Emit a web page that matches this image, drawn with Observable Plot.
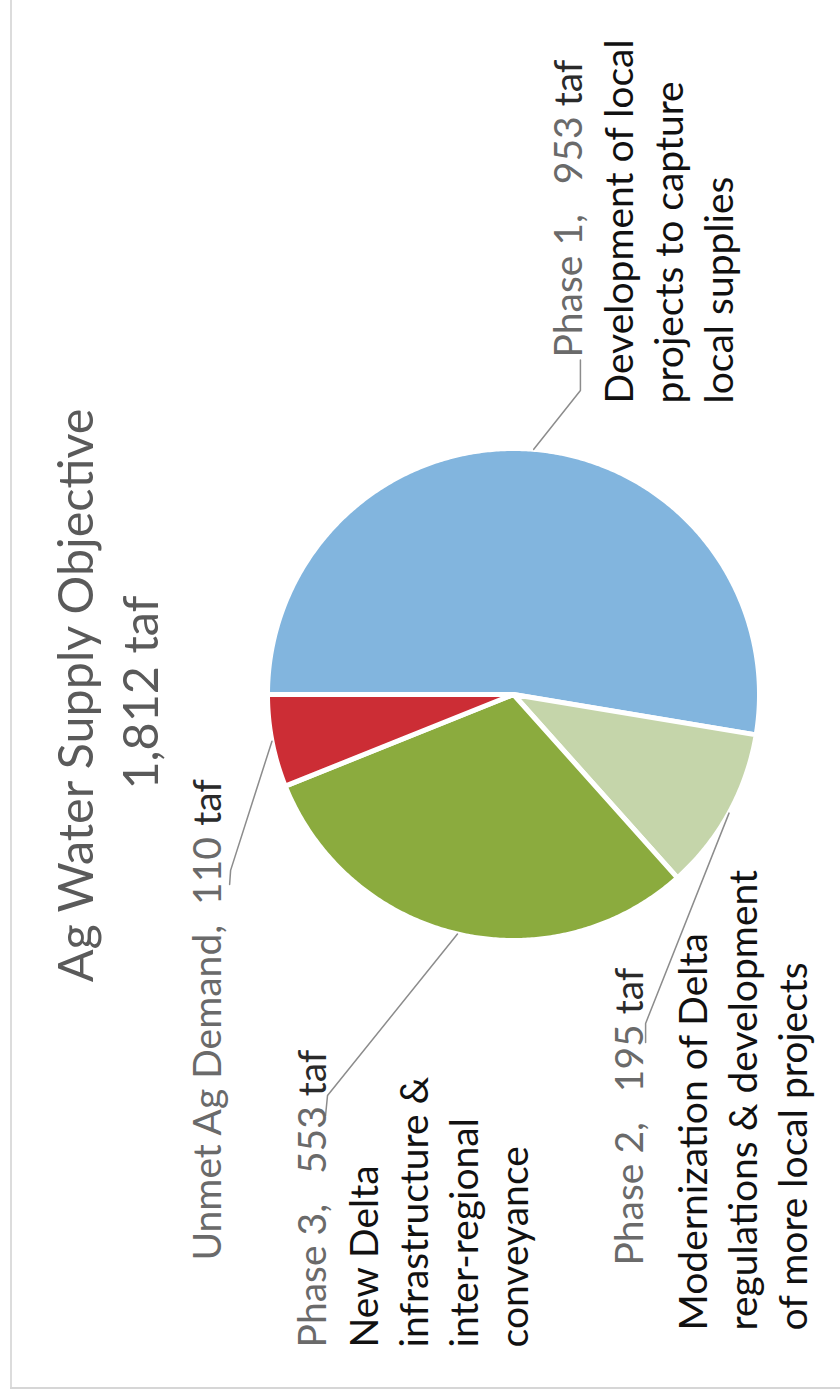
<!DOCTYPE html>
<html><head><meta charset="utf-8">
<script src="https://cdn.jsdelivr.net/npm/d3@7"></script>
<script src="https://cdn.jsdelivr.net/npm/@observablehq/plot@0.6"></script>
<style>
html,body{margin:0;padding:0;background:#fff;overflow:hidden}
#chart{position:relative;width:840px;height:1395px}
#chart::before{content:"";position:absolute;left:10px;top:0;width:2px;height:1388px;background:#dcdcdc}
#chart::after{content:"";position:absolute;left:10px;top:1387px;width:830px;height:2px;background:#d6d6d6}
</style></head><body><div id="chart"></div>
<script>
// ---- data ----
const title = "Ag Water Supply Objective";
const totalLabel = "1,812 taf";
const categories = ["Phase 1", "Phase 2", "Phase 3", "Unmet Ag Demand"];
const values = [953, 195, 553, 110];
const unit = "taf";
const separators = [",   ", ",   ", ",   ", ",  "];
const descriptions = [
  ["Development of local", "projects to capture", "local supplies"],
  ["Modernization of Delta", "regulations & development", "of more local projects"],
  ["New Delta", "infrastructure &", "inter-regional", "conveyance"],
  []
];
const sliceColors = ["#82b5de", "#c5d5aa", "#8bab3e", "#cc2d35"];

// ---- layout (pie-radius units, origin at pie centre, y downward; text reads bottom-to-top) ----
const W = 840, H = 1395, CX = 513, CY = 694, R = 246;
const FONT = "Lato, sans-serif";
const titleSize = 48.5, labelSize = 39, lineGap = 50;
const titlePos = {x: -1.711, y: 0.004};
const totalPos = {x: -1.447, y: -0.008};
const headerPos = [ // baseline x, start y
  {x: 0.280, y: -1.370},
  {x: 0.528, y: 2.321},
  {x: -0.764, y: 2.654},
  {x: -1.187, y: 2.301}
];
const descPos = [ // last baseline x, start y
  {x: 0.894, y: -1.183},
  {x: 1.195, y: 2.585},
  {x: 0.057, y: 2.654},
  null
];
const leaderPts = [ // elbow, end
  [[0.272, -1.236], [0.272, -1.360]],
  [[0.537, 1.337], [0.537, 1.415]],
  [[-0.756, 1.630], [-0.764, 1.711]],
  [[-1.150, 0.715], [-1.154, 0.772]]
];

// ---- text measurement (to place the unit right after each value) ----
const ctx = document.createElement("canvas").getContext("2d");
ctx.font = `${labelSize}px ${FONT}`;
const measure = s => ctx.measureText(s).width / R;

// ---- geometry from data ----
const arcs = d3.pie().sort(null).value(d => d)(values);
const polar = (a, r) => [r * Math.cos(Math.PI + a), r * Math.sin(Math.PI + a)];
const wedges = arcs.flatMap((arc, i) => {
  const pts = [{name: categories[i], x: 0, y: 0}];
  const n = Math.max(2, Math.ceil((arc.endAngle - arc.startAngle) / (Math.PI / 360)));
  for (let k = 0; k <= n; k++) {
    const [x, y] = polar(arc.startAngle + (arc.endAngle - arc.startAngle) * k / n, 1);
    pts.push({name: categories[i], x, y});
  }
  return pts;
});
const leaders = arcs.flatMap((arc, i) => {
  const [x, y] = polar((arc.startAngle + arc.endAngle) / 2, 1);
  return [{name: categories[i], x, y},
          {name: categories[i], x: leaderPts[i][0][0], y: leaderPts[i][0][1]},
          {name: categories[i], x: leaderPts[i][1][0], y: leaderPts[i][1][1]}];
});
const headers = categories.map((c, i) => ({text: `${c}${separators[i]}${values[i]}`, ...headerPos[i]}));
const units = headers.map(h => ({text: unit, x: h.x, y: h.y - measure(h.text + " ")}));
const descs = descriptions.map((d, i) => ({text: d.join("\n"), ...(descPos[i] || {})})).filter(d => d.text);

const chart = Plot.plot({
  width: W, height: H, margin: 0,
  style: {fontFamily: FONT, background: "transparent"},
  x: {domain: [-CX / R, (W - CX) / R], range: [0, W], axis: null},
  y: {domain: [-CY / R, (H - CY) / R], range: [0, H], axis: null},
  color: {domain: categories, range: sliceColors},
  marks: [
    Plot.line(wedges, {x: "x", y: "y", z: "name", fill: "name", stroke: "white", strokeWidth: 5, curve: "linear-closed"}),
    Plot.line(leaders, {x: "x", y: "y", z: "name", stroke: "#8c8c8c", strokeWidth: 1.5}),
    Plot.text([title], {x: () => titlePos.x, y: () => titlePos.y, text: d => d, rotate: -90, textAnchor: "middle", lineAnchor: "bottom", fontSize: titleSize, fill: "#5a5a5a"}),
    Plot.text([totalLabel], {x: () => totalPos.x, y: () => totalPos.y, text: d => d, rotate: -90, textAnchor: "middle", lineAnchor: "bottom", fontSize: titleSize, fill: "#5a5a5a"}),
    Plot.text(headers, {x: "x", y: "y", text: "text", rotate: -90, textAnchor: "start", lineAnchor: "bottom", fontSize: labelSize, fill: "#6a6a6a"}),
    Plot.text(units, {x: "x", y: "y", text: "text", rotate: -90, textAnchor: "start", lineAnchor: "bottom", fontSize: labelSize, fill: "#2a2a2a"}),
    Plot.text(descs, {x: "x", y: "y", text: "text", rotate: -90, textAnchor: "start", lineAnchor: "bottom", lineHeight: lineGap / labelSize, fontSize: labelSize, fill: "#111"})
  ]
});
document.getElementById("chart").append(chart);
</script></body></html>
